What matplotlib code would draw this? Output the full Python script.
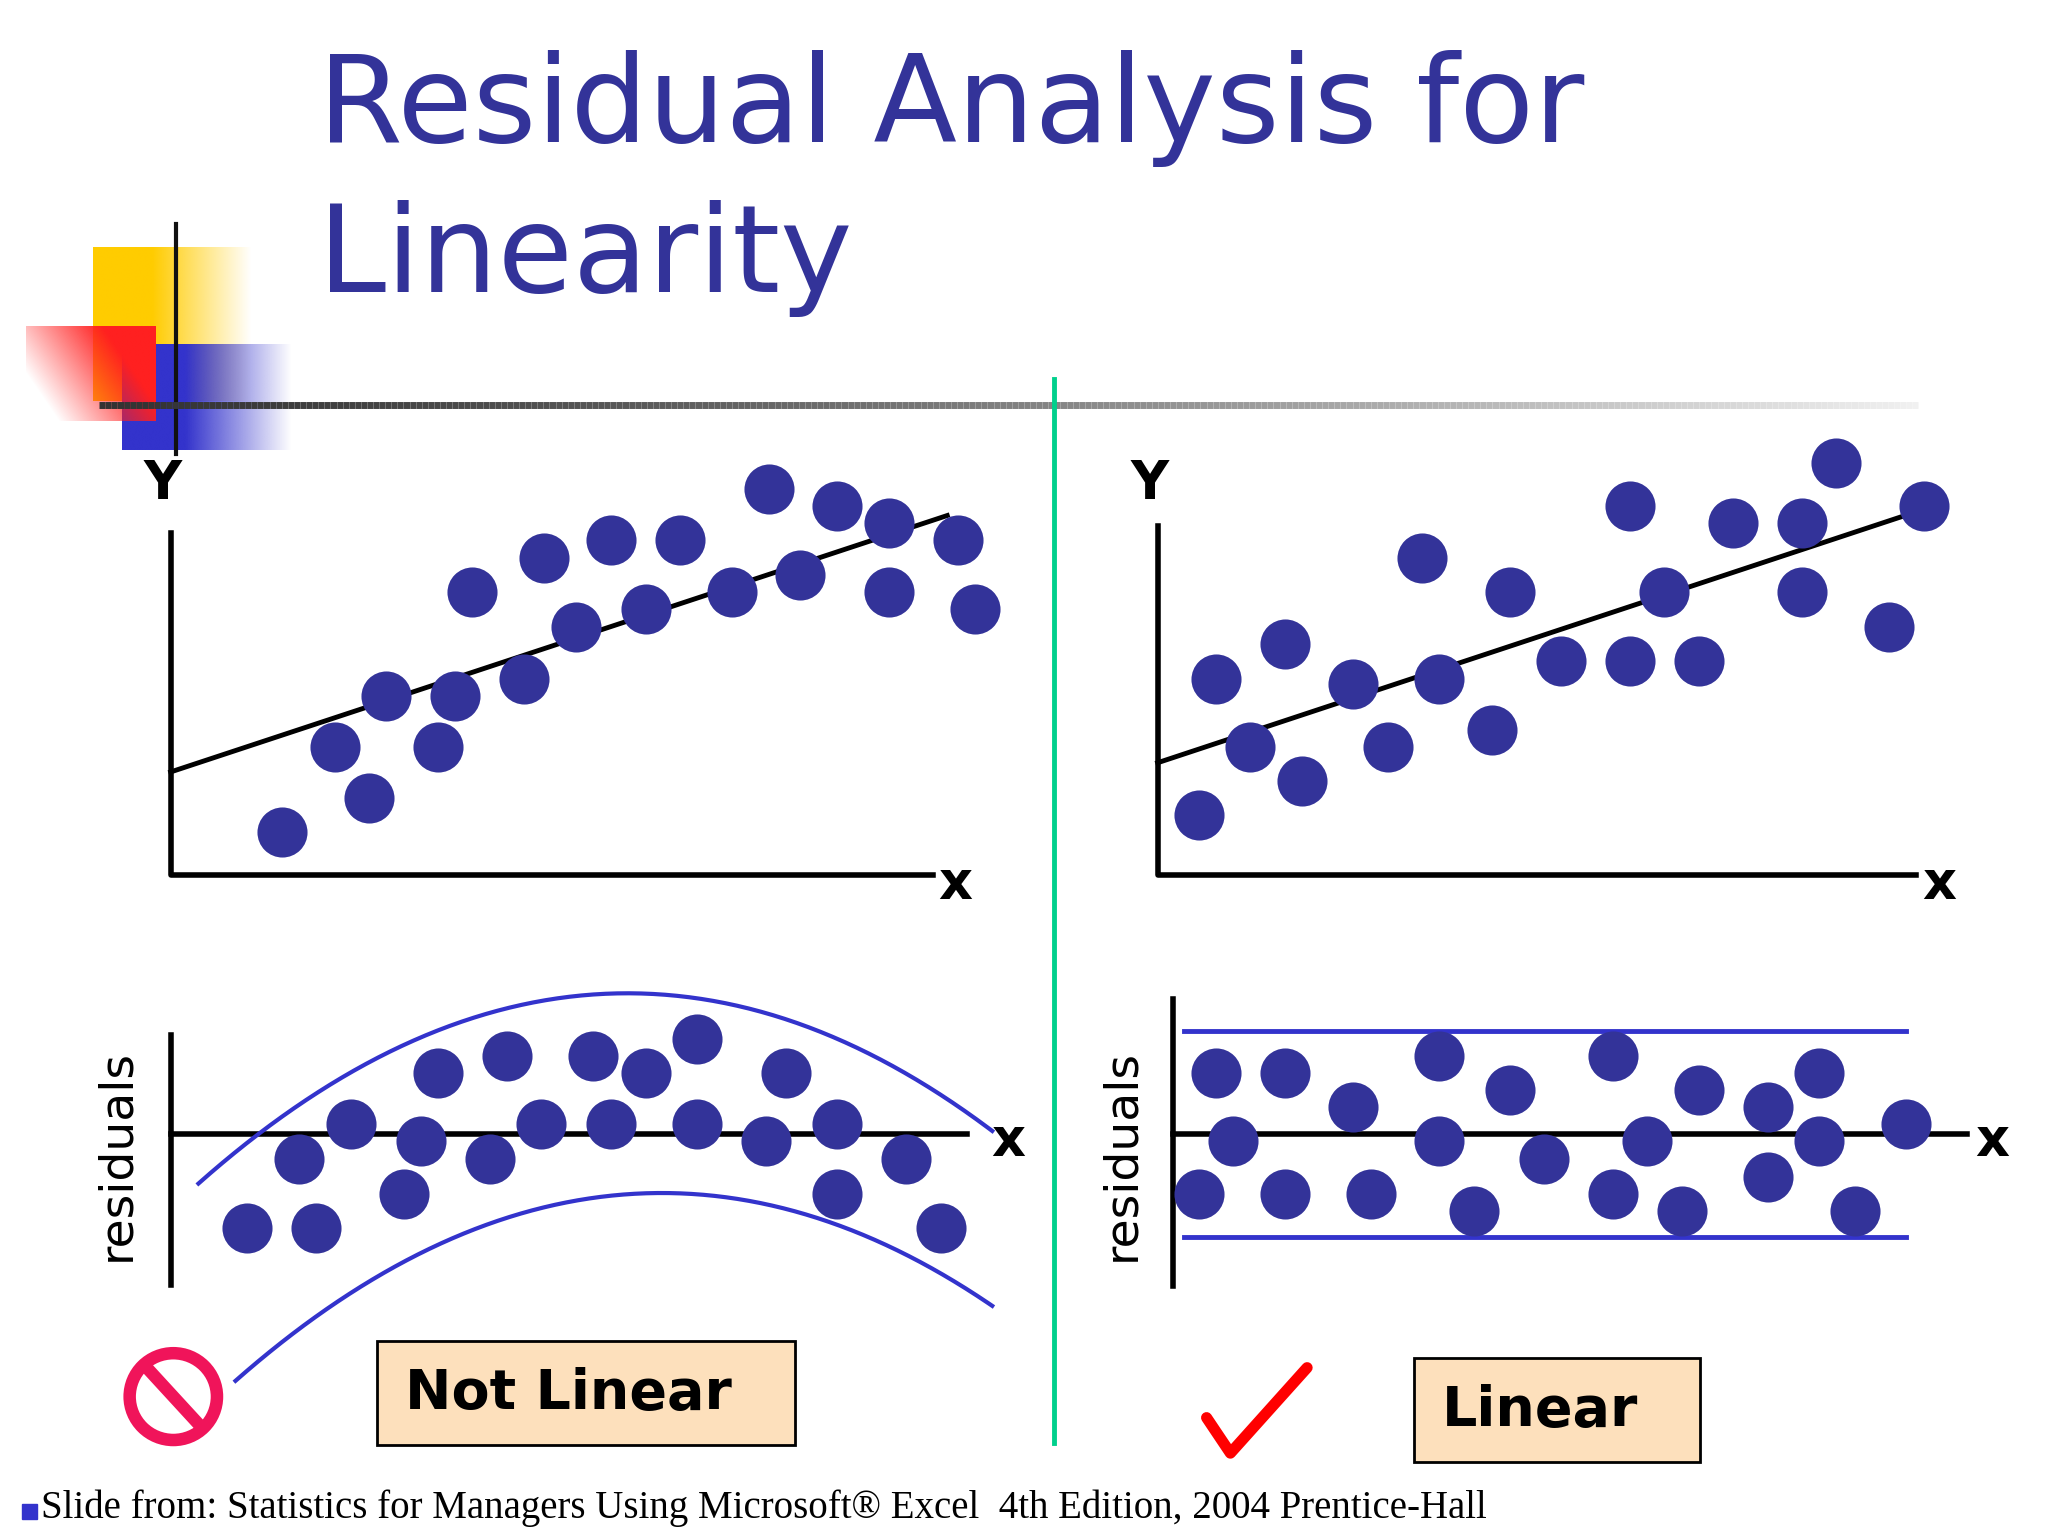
import numpy as np
import matplotlib
matplotlib.use("Agg")
import matplotlib.pyplot as plt
from matplotlib.patches import Rectangle, Circle

W, H = 1548, 1168
BLUE = "#333399"
DOT = "#333399"

# ---- data (panel units: x right from y-axis, y up from x-axis) ----
tl_x = [84,150,124,163,202,215,228,267,282,306,333,359,385,424,452,476,504,543,543,595,608]
tl_y = [32,58,97,136,97,136,215,149,241,188,254,202,254,215,293,228,280,267,215,254,202]
tl_line_x = [0, 587]
tl_line_y = [78, 273]

tr_x = [31,44,70,96,109,148,174,200,213,253,266,305,357,357,383,409,435,487,487,513,553,579]
tr_y = [45,149,97,175,71,145,97,241,149,110,215,162,280,162,215,162,267,267,215,313,188,280]
tr_line_x = [0, 565]
tr_line_y = [85, 273]

bl_x = [58,97,110,136,176,189,202,241,254,280,319,333,359,398,398,450,465,504,504,556,582]
bl_y = [-72,-19,-72,7,-46,-6,46,-19,59,7,59,7,46,72,7,-6,46,7,-46,-19,-72]
bl_up_x = [21, 301, 621]
bl_up_y = [-38, 104, 2]
bl_lo_x = [49, 326, 621]
bl_lo_y = [-188, -48, -131]

br_x = [32,45,19,84,84,136,149,201,201,227,254,280,332,332,358,384,397,449,449,488,488,515,554]
br_y = [46,-6,-46,46,-46,20,-46,59,-6,-59,33,-19,59,-46,-6,-59,33,20,-33,46,-6,-59,7]
br_band_x = [8, 554]
br_band_up = 78
br_band_lo = -79

fig = plt.figure(figsize=(20.48, 15.36), dpi=100)
ax0 = fig.add_axes([0, 0, 1, 1])
ax0.set_xlim(0, W); ax0.set_ylim(H, 0); ax0.axis("off")

def grad(x0, x1, y0, y1, color, direction, z):
    n = 200
    t = np.linspace(0, 1, n)
    rgba = np.zeros((n, n, 4))
    rgba[..., :3] = matplotlib.colors.to_rgb(color)
    if direction == "h":
        a = np.clip(1.6 - 1.6 * t, 0, 1)[None, :] * np.ones((n, 1))
    else:  # red: opaque top-right fading to bottom-left
        a = np.clip((t[None, :] * 1.2 + (1 - t[:, None]) * 0.6) - 0.3, 0, 1)
    rgba[..., 3] = a
    ax0.imshow(rgba, extent=(x0, x1, y1, y0), aspect="auto", zorder=z)

grad(70, 190, 188, 305, "#FFCC00", "h", 1)
grad(92, 220, 262, 342, "#3333CC", "h", 2)
grad(20, 118, 248, 320, "#FF2020", "r", 3)
ax0.plot([133, 133], [170, 345], color="#111111", lw=3, zorder=5)
# gradient horizontal rule
xs = np.linspace(75, 1450, 300)
for i in range(len(xs) - 1):
    f = i / len(xs)
    c = 0.2 + 0.75 * f ** 1.3
    ax0.plot(xs[i:i+2], [308, 308], color=(c, c, c), lw=5, solid_capstyle="butt", zorder=5)
ax0.plot([797, 797], [288, 1097], color="#00D08C", lw=3.5, zorder=5)

ax0.text(240, 108, "Residual Analysis for", color=BLUE, fontsize=88,
         family=["Liberation Sans Narrow", "DejaVu Sans"], va="baseline")
ax0.text(240, 222, "Linearity", color=BLUE, fontsize=88,
         family=["Liberation Sans Narrow", "DejaVu Sans"], va="baseline")

def panel(x0, x1, ytop, ybot):
    ax = fig.add_axes([x0 / W, 1 - ybot / H, (x1 - x0) / W, (ybot - ytop) / H])
    ax.set_xlim(0, x1 - x0); ax.set_ylim(0, ybot - ytop)
    ax.axis("off")
    return ax

lab = dict(fontsize=38, fontweight="bold", family="DejaVu Sans")
ms = 1300

# top-left
ax = panel(129, 705, 405, 665)
ax.plot([0, 0, 576], [260, 0, 0], color="k", lw=4, clip_on=False)
ax.plot(tl_line_x, tl_line_y, color="k", lw=3.5, clip_on=False)
ax.scatter(tl_x, tl_y, s=ms, color=DOT, clip_on=False, zorder=3, lw=0)

# top-right
ax = panel(875, 1448, 400, 665)
ax.plot([0, 0, 573], [265, 0, 0], color="k", lw=4, clip_on=False)
ax.plot(tr_line_x, tr_line_y, color="k", lw=3.5, clip_on=False)
ax.scatter(tr_x, tr_y, s=ms, color=DOT, clip_on=False, zorder=3, lw=0)

# bottom-left (origin at y=862)
ax = fig.add_axes([129 / W, 1 - 977 / H, 602 / W, 190 / H])
ax.set_xlim(0, 602); ax.set_ylim(-115, 75); ax.axis("off")
ax.plot([0, 0], [75, -115], color="k", lw=4, clip_on=False)
ax.plot([0, 602], [0, 0], color="k", lw=4, clip_on=False)
for cx, cy in ((bl_up_x, bl_up_y), (bl_lo_x, bl_lo_y)):
    p = np.polyfit(cx, cy, 2)
    xx = np.linspace(cx[0], cx[-1], 200)
    ax.plot(xx, np.polyval(p, xx), color="#3333CC", lw=3, clip_on=False)
ax.scatter(bl_x, bl_y, s=ms, color=DOT, clip_on=False, zorder=3, lw=0)

# bottom-right
ax = fig.add_axes([887 / W, 1 - 978 / H, 600 / W, 218 / H])
ax.set_xlim(0, 600); ax.set_ylim(-116, 102); ax.axis("off")
ax.plot([0, 0], [102, -116], color="k", lw=4, clip_on=False)
ax.plot([0, 600], [0, 0], color="k", lw=4, clip_on=False)
ax.plot(br_band_x, [br_band_up] * 2, color="#3333CC", lw=3.5)
ax.plot(br_band_x, [br_band_lo] * 2, color="#3333CC", lw=3.5)
ax.scatter(br_x, br_y, s=ms, color=DOT, clip_on=False, zorder=3, lw=0)

# axis labels
for x, y, t in ((123, 368, "Y"), (722, 672, "x"), (869, 368, "Y"), (1466, 672, "x"),
                (762, 868, "x"), (1506, 868, "x")):
    ax0.text(x, y, t, ha="center", va="center", **lab)
for x in (88, 848):
    ax0.text(x, 878, "residuals", rotation=90, ha="center", va="center",
             fontsize=34, family="DejaVu Sans")

# boxes
ax0.add_patch(Rectangle((285, 1020), 316, 79, fc="#FDE0BC", ec="k", lw=2, zorder=4))
ax0.text(430, 1060, "Not Linear", ha="center", va="center", fontsize=40,
         fontweight="bold", family="DejaVu Sans", zorder=5)
ax0.add_patch(Rectangle((1069, 1033), 216, 79, fc="#FDE0BC", ec="k", lw=2, zorder=4))
ax0.text(1164, 1073, "Linear", ha="center", va="center", fontsize=40,
         fontweight="bold", family="DejaVu Sans", zorder=5)

# no symbol
ax0.add_patch(Circle((131, 1062), 33, fc="none", ec="#F0145A", lw=9, zorder=5))
ax0.plot([110, 152], [1039, 1085], color="#F0145A", lw=9, zorder=5)
# check mark
ax0.plot([912, 930, 988], [1078, 1105, 1040], color="#FF0000", lw=8, zorder=5,
         solid_capstyle="round")

# footer
ax0.add_patch(Rectangle((17, 1144), 11, 11, color="#3333CC"))
ax0.text(31, 1147, "Slide from: Statistics for Managers Using Microsoft® Excel  4th Edition, 2004 Prentice-Hall",
         fontsize=28, family="Liberation Serif", va="center", ha="left")

fig.savefig("out.png", dpi=100)
